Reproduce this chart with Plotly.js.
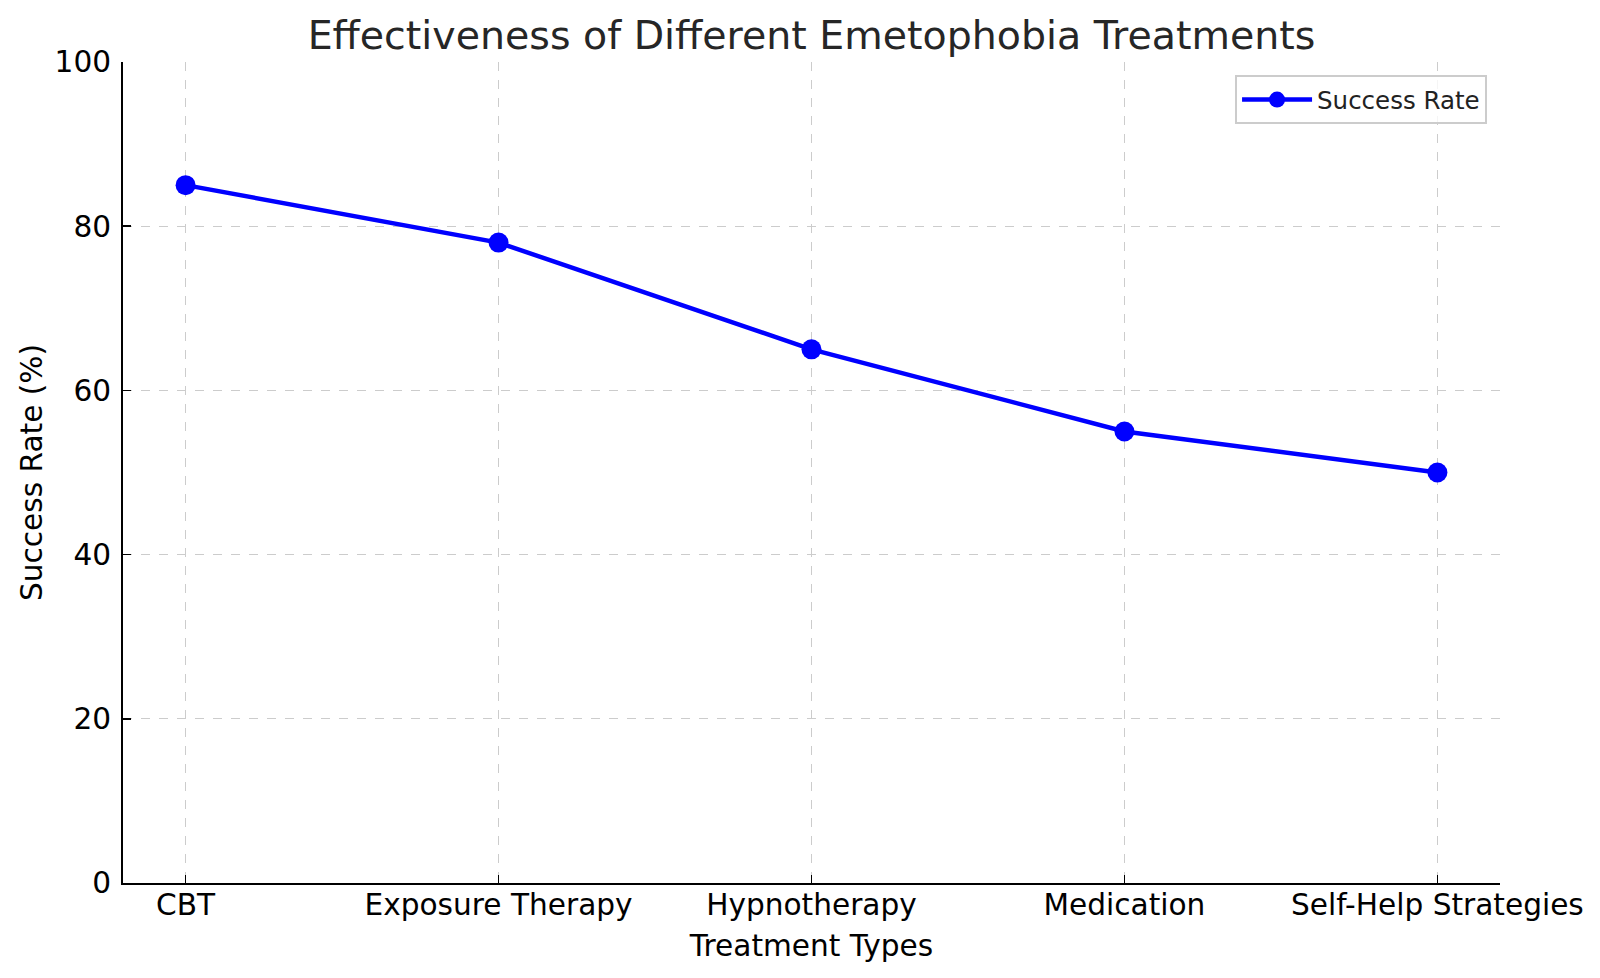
<!DOCTYPE html>
<html>
<head>
<meta charset="utf-8">
<script src="https://cdn.plot.ly/plotly-3.0.1.min.js"></script>
<style>html,body{margin:0;padding:0;background:#fff;}#chart{width:1600px;height:978px;}</style>
</head>
<body>
<div id="chart"></div>
<script>
const treatments = ["CBT", "Exposure Therapy", "Hypnotherapy", "Medication", "Self-Help Strategies"];
const successRates = [85, 78, 65, 55, 50];
const yTicks = [0, 20, 40, 60, 80, 100];

const FONT = "DejaVu Sans, sans-serif";

const trace = {
  x: treatments.map((_, i) => i),
  y: successRates,
  type: "scatter",
  mode: "lines+markers",
  name: "Success Rate",
  line: {color: "#0000ff", width: 4.5},
  marker: {color: "#0000ff", size: 20},
  showlegend: true
};

const layout = {
  width: 1600,
  height: 978,
  paper_bgcolor: "#ffffff",
  plot_bgcolor: "#ffffff",
  margin: {l: 123, r: 100, t: 62, b: 95, pad: 0},
  font: {family: FONT, color: "#000", size: 29.6},
  title: {
    text: "Effectiveness of Different Emetophobia Treatments",
    font: {family: FONT, size: 39.5, color: "#262626"},
    x: 0.5, xref: "paper", xanchor: "center",
    y: 1 - 35/978, yref: "container", yanchor: "middle"
  },
  xaxis: {
    range: [-0.2, 4.2],
    tickmode: "array",
    tickvals: treatments.map((_, i) => i),
    ticktext: treatments,
    showgrid: true,
    gridcolor: "#cccccc",
    griddash: "dash",
    gridwidth: 1,
    zeroline: false,
    showline: true,
    linecolor: "#000",
    linewidth: 2,
    ticks: "inside",
    ticklen: 8,
    tickwidth: 1.5,
    tickcolor: "#000",
    tickfont: {family: FONT, size: 29.6, color: "#000"},
    ticklabelstandoff: -6,
    title: {text: "Treatment Types", font: {family: FONT, size: 29.6, color: "#000"}, standoff: 15}
  },
  yaxis: {
    range: [0, 100],
    tickmode: "array",
    tickvals: yTicks,
    ticktext: yTicks.map(String),
    showgrid: true,
    gridcolor: "#cccccc",
    griddash: "dash",
    gridwidth: 1,
    zeroline: false,
    showline: true,
    linecolor: "#000",
    linewidth: 2,
    ticks: "inside",
    ticklen: 8,
    tickwidth: 1.5,
    tickcolor: "#000",
    tickfont: {family: FONT, size: 29.6, color: "#000"},
    ticklabelstandoff: 4,
    title: {text: "Success Rate (%)", font: {family: FONT, size: 29.6, color: "#000"}, standoff: 3}
  },
  legend: {
    x: 0.9906, y: 0.984, xanchor: "right", yanchor: "top",
    bgcolor: "rgba(255,255,255,0.8)",
    bordercolor: "#cccccc",
    borderwidth: 2,
    font: {family: FONT, size: 24.5, color: "#222"},
    itemwidth: 70
  },
  showlegend: true
};

Plotly.newPlot("chart", [trace], layout, {displayModeBar: false, staticPlot: true});
</script>
</body>
</html>
